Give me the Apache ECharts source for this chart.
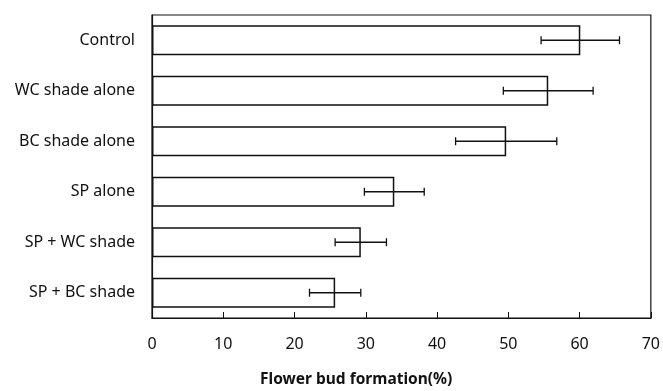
<!DOCTYPE html>
<html>
<head>
<meta charset="utf-8">
<script src="https://cdn.jsdelivr.net/npm/echarts@6/dist/echarts.min.js"></script>
<style>
html, body { margin: 0; padding: 0; background: #fff; }
#bud { width: 663px; height: 391px; }
</style>
</head>
<body>
<div id="bud"></div>
<script>
// treatments, top to bottom
var treatments = ['Control', 'WC shade alone', 'BC shade alone', 'SP alone', 'SP + WC shade', 'SP + BC shade'];
// flower bud formation (%) and error (+/-)
var budMean = [60.1, 55.6, 49.7, 34.0, 29.3, 25.7];
var budErr = [5.5, 6.3, 7.1, 4.2, 3.6, 3.6];
var xTicks = [0, 10, 20, 30, 40, 50, 60, 70];

var budChart = echarts.init(document.getElementById('bud'));

var errData = [];
for (var i = 0; i < treatments.length; i++) {
    errData.push([i, budMean[i] - budErr[i], budMean[i] + budErr[i]]);
}

var lbl = { fontFamily: 'Noto Sans', fontSize: 16, color: '#111' };

var option = {
    animation: false,
    title: {
        text: 'Flower bud formation(%)',
        left: 255,
        top: 367,
        textStyle: { fontFamily: 'Noto Sans', fontSize: 15.5, fontWeight: 'bold', color: '#111' }
    },
    grid: { left: 152, right: 10, top: 15, bottom: 73, show: true, borderColor: '#111', borderWidth: 1.2 },
    xAxis: {
        type: 'value',
        min: xTicks[0],
        max: xTicks[xTicks.length - 1],
        interval: 10,
        splitLine: { show: false },
        axisLine: { show: true, lineStyle: { color: '#111', width: 1.2 } },
        axisTick: { show: true, inside: true, length: 6, lineStyle: { color: '#111' } },
        axisLabel: Object.assign({ margin: 18 }, lbl)
    },
    yAxis: {
        type: 'category',
        inverse: true,
        data: treatments,
        axisLine: { show: true, lineStyle: { color: '#111', width: 1.2 } },
        axisTick: { show: false },
        axisLabel: Object.assign({ margin: 17 }, lbl)
    },
    series: [{
        type: 'bar',
        data: budMean,
        barCategoryGap: '41%',
        itemStyle: { color: '#fff', borderColor: '#111', borderWidth: 1.5 }
    }, {
        type: 'custom',
        data: errData,
        z: 5,
        renderItem: function (params, api) {
            var lo = api.coord([api.value(1), api.value(0)]);
            var hi = api.coord([api.value(2), api.value(0)]);
            var cap = 4;
            var style = { stroke: '#111', lineWidth: 1.3 };
            return {
                type: 'group',
                children: [
                    { type: 'line', shape: { x1: lo[0], y1: lo[1], x2: hi[0], y2: hi[1] }, style: style },
                    { type: 'line', shape: { x1: lo[0], y1: lo[1] - cap, x2: lo[0], y2: lo[1] + cap }, style: style },
                    { type: 'line', shape: { x1: hi[0], y1: hi[1] - cap, x2: hi[0], y2: hi[1] + cap }, style: style }
                ]
            };
        }
    }]
};

budChart.setOption(option);
</script>
</body>
</html>
